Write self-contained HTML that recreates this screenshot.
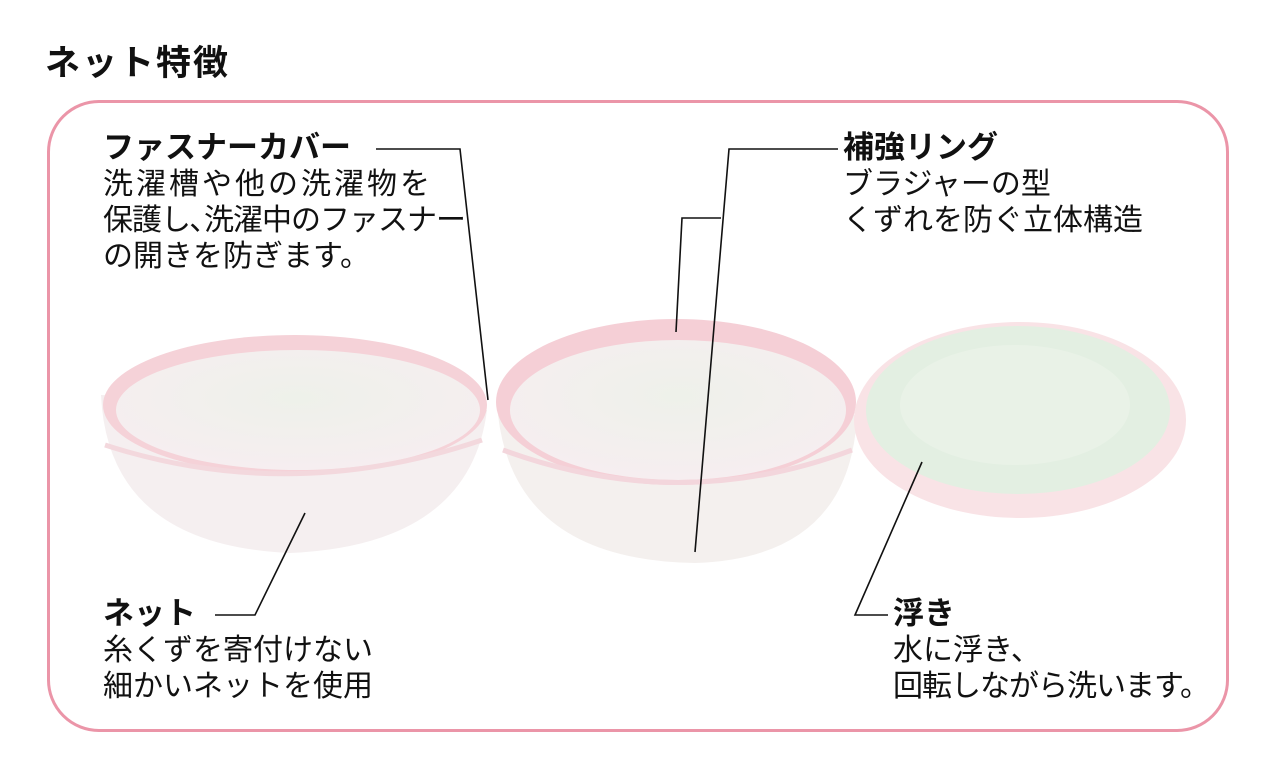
<!DOCTYPE html>
<html><head><meta charset="utf-8"><style>
body{margin:0;width:1275px;height:778px;background:#fff;position:relative;overflow:hidden;font-family:"Liberation Sans","Noto Sans CJK JP",sans-serif;color:#111}
.t{position:absolute;font-size:30px;line-height:36px;white-space:nowrap}
.b{font-weight:bold;font-size:31px}
</style></head><body>
<div class="t b" style="left:45px;top:46px;font-size:35px;letter-spacing:2px">ネット特徴</div>
<div style="position:absolute;left:47px;top:100px;width:1176px;height:626px;border:3px solid #eb95a8;border-radius:52px"></div>
<svg width="1275" height="778" style="position:absolute;left:0;top:0">
<defs>
<radialGradient id="m" cx="50%" cy="40%" r="60%"><stop offset="0" stop-color="#eef1ea"/><stop offset="1" stop-color="#f6eef0"/></radialGradient>
</defs>
<path d="M101 395 Q108 545 290 553 Q470 545 487 410 Z" fill="#f5eff0"/>
<ellipse cx="295" cy="405" rx="192" ry="70" fill="#f5d2d8"/>
<ellipse cx="298" cy="410" rx="182" ry="60" fill="url(#m)"/>
<path d="M105 445 Q290 505 482 440" stroke="#f3d8dd" stroke-width="5" fill="none"/>
<path d="M498 415 Q515 560 695 563 Q850 558 857 415 Z" fill="#f4f0ee"/>
<ellipse cx="676" cy="402" rx="180" ry="83" fill="#f5cfd6"/>
<ellipse cx="678" cy="410" rx="168" ry="70" fill="url(#m)"/>
<path d="M503 450 Q680 515 852 450" stroke="#f3d6dc" stroke-width="5" fill="none"/>
<ellipse cx="1020" cy="420" rx="166" ry="98" fill="#f9e3e6"/>
<ellipse cx="1018" cy="410" rx="152" ry="84" fill="#e3efe2"/>
<ellipse cx="1015" cy="405" rx="115" ry="60" fill="#e9f2e7"/>
<g stroke="#111" stroke-width="1.6" fill="none">
<polyline points="376,149 460,149 488,400"/>
<polyline points="838,149 729,149 695,552"/>
<polyline points="721,218 682,218 676,332"/>
<polyline points="215,615 255,615 305,513"/>
<polyline points="888,615 855,615 922,462"/>
</g>
</svg>
<div class="t" style="left:103px;top:130px"><span class="b">ファスナーカバー</span><br><span style="letter-spacing:3px">洗濯槽や他の洗濯物を</span><br><span style="letter-spacing:-1px">保護し､洗濯中のファスナー</span><br>の開きを防ぎます。</div>
<div class="t" style="left:843px;top:130px"><span class="b">補強リング</span><br>ブラジャーの型<br>くずれを防ぐ立体構造</div>
<div class="t" style="left:103px;top:596px"><span class="b">ネット</span><br>糸くずを寄付けない<br>細かいネットを使用</div>
<div class="t" style="left:893px;top:596px"><span class="b">浮き</span><br>水に浮き、<br><span style="letter-spacing:-1px">回転しながら洗います。</span></div>
</body></html>
